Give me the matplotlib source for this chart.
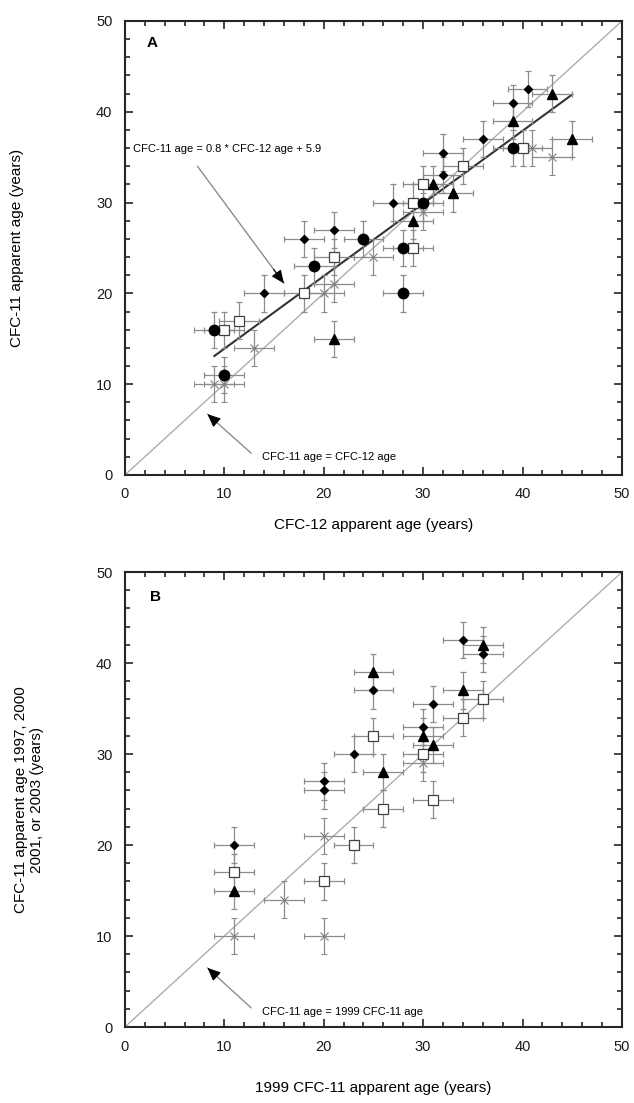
import matplotlib.pyplot as plt
from matplotlib.ticker import MultipleLocator

plt.rcParams["font.family"] = ["Liberation Sans", "DejaVu Sans"]

ERR = 2.0

# Panel A: CFC-12 age (x) vs CFC-11 age (y)
a_circle_x = [9, 10, 19, 24, 28, 28, 30, 39]
a_circle_y = [16, 11, 23, 26, 25, 20, 30, 36]
a_diamond_x = [14, 18, 21, 27, 32, 32, 36, 39, 40.5]
a_diamond_y = [20, 26, 27, 30, 33, 35.5, 37, 41, 42.5]
a_tri_x = [21, 29, 31, 33, 39, 43, 45]
a_tri_y = [15, 28, 32, 31, 39, 42, 37]
a_square_x = [10, 11.5, 18, 21, 29, 29, 30, 34, 40]
a_square_y = [16, 17, 20, 24, 25, 30, 32, 34, 36]
a_cross_x = [9, 10, 13, 20, 21, 25, 30, 41, 43]
a_cross_y = [10, 10, 14, 20, 21, 24, 29, 36, 35]
fit_slope, fit_icpt = 0.8, 5.9
fit_range = [9, 45]

# Panel B: 1999 CFC-11 age (x) vs later-year CFC-11 age (y)
b_diamond_x = [11, 20, 20, 23, 25, 30, 31, 34, 36]
b_diamond_y = [20, 26, 27, 30, 37, 33, 35.5, 42.5, 41]
b_tri_x = [11, 25, 26, 30, 31, 34, 36]
b_tri_y = [15, 39, 28, 32, 31, 37, 42]
b_square_x = [11, 20, 23, 25, 26, 30, 31, 34, 36]
b_square_y = [17, 16, 20, 32, 24, 30, 25, 34, 36]
b_cross_x = [11, 16, 20, 20, 30]
b_cross_y = [10, 14, 10, 21, 29]

ERRKW = dict(ecolor="0.55", elinewidth=0.9, capsize=2.2, capthick=0.9, linestyle="none", zorder=3)


def pts(ax, x, y, **kw):
    ax.errorbar(x, y, xerr=ERR, yerr=ERR, **ERRKW, **kw)


def style_axes(ax):
    ax.set_xlim(0, 50)
    ax.set_ylim(0, 50)
    ax.xaxis.set_major_locator(MultipleLocator(10))
    ax.yaxis.set_major_locator(MultipleLocator(10))
    ax.xaxis.set_minor_locator(MultipleLocator(2))
    ax.yaxis.set_minor_locator(MultipleLocator(2))
    ax.tick_params(which="both", direction="in", top=True, right=True, width=1.2, colors="0.15",
                   labelcolor="0.1", labelsize=10.5)
    ax.tick_params(which="major", length=6, pad=9)
    ax.tick_params(which="minor", length=3.5)
    for s in ax.spines.values():
        s.set_linewidth(1.5)
        s.set_color("0.15")
    ax.plot([0, 50], [0, 50], color="0.68", lw=1.0, zorder=1)


def arrow(ax, xy_tail, xy_head):
    ax.annotate("", xy=xy_head, xytext=xy_tail,
                arrowprops=dict(arrowstyle="-", color="0.55", lw=1.0, shrinkA=0, shrinkB=0))
    fx = xy_head[0] + 0.12 * (xy_tail[0] - xy_head[0])
    fy = xy_head[1] + 0.12 * (xy_tail[1] - xy_head[1])
    ax.annotate("", xy=xy_head, xytext=(fx, fy),
                arrowprops=dict(arrowstyle="-|>,head_length=0.8,head_width=0.35", color="black",
                                lw=0.8, shrinkA=0, shrinkB=0))


fig = plt.figure(figsize=(6.34, 11.03), dpi=100)
axA = fig.add_axes([0.197, 0.5694, 0.784, 0.4116])
axB = fig.add_axes([0.197, 0.0689, 0.784, 0.4125])

# --- A ---
style_axes(axA)
axA.plot(fit_range, [fit_slope * v + fit_icpt for v in fit_range], color="0.2", lw=1.5, zorder=2)
pts(axA, a_cross_x, a_cross_y, fmt="x", color="0.5", ms=6, mew=0.8)
pts(axA, a_square_x, a_square_y, fmt="s", mfc="white", mec="0.25", ms=7, mew=0.9)
pts(axA, a_tri_x, a_tri_y, fmt="^", color="black", ms=7)
pts(axA, a_diamond_x, a_diamond_y, fmt="D", color="black", ms=4.5)
pts(axA, a_circle_x, a_circle_y, fmt="o", color="black", ms=7.5)
axA.text(2.2, 47.6, "A", fontsize=11, fontweight="bold", va="center")
axA.text(0.8, 35.9, "CFC-11 age = 0.8 * CFC-12 age + 5.9", fontsize=8, va="center")
arrow(axA, (7.3, 34.0), (16.0, 21.1))
axA.text(13.8, 2.0, "CFC-11 age = CFC-12 age", fontsize=8, va="center")
arrow(axA, (12.7, 2.4), (8.3, 6.7))
axA.set_xlabel("CFC-12 apparent age (years)", fontsize=11, labelpad=12)
axA.set_ylabel("CFC-11 apparent age (years)", fontsize=11)
axA.yaxis.set_label_coords(-0.203, 0.5)

# --- B ---
style_axes(axB)
pts(axB, b_cross_x, b_cross_y, fmt="x", color="0.5", ms=6, mew=0.8)
pts(axB, b_square_x, b_square_y, fmt="s", mfc="white", mec="0.25", ms=7, mew=0.9)
pts(axB, b_tri_x, b_tri_y, fmt="^", color="black", ms=7)
pts(axB, b_diamond_x, b_diamond_y, fmt="D", color="black", ms=4.5)
axB.text(2.5, 47.2, "B", fontsize=11, fontweight="bold", va="center")
axB.text(13.8, 1.6, "CFC-11 age = 1999 CFC-11 age", fontsize=8, va="center")
arrow(axB, (12.7, 2.1), (8.3, 6.5))
axB.set_xlabel("1999 CFC-11 apparent age (years)", fontsize=11, labelpad=20)
axB.set_ylabel("CFC-11 apparent age 1997, 2000\n2001, or 2003 (years)", fontsize=11)
axB.yaxis.set_label_coords(-0.163, 0.5)

fig.savefig("out.png", dpi=100)
